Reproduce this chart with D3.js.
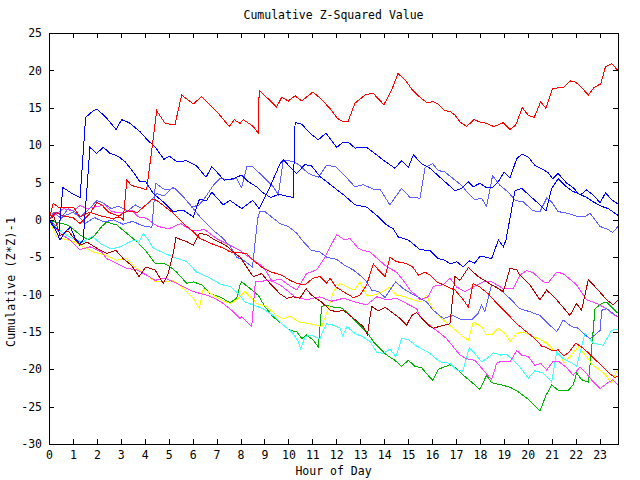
<!DOCTYPE html>
<html><head><meta charset="utf-8">
<script src="https://cdn.jsdelivr.net/npm/d3@7"></script>
<style>
html,body{margin:0;padding:0;background:#fff;}
svg{display:block;}
</style></head><body>
<svg id="chart" width="640" height="480"></svg>
<script>
// ---------- DATA (hour of day, cumulative (Z*Z)-1) ----------
const hourTicks = d3.range(0, 24);
const valueTicks = d3.range(-30, 26, 5);
const titleText = "Cumulative Z-Squared Value";
const xLabelText = "Hour of Day";
const yLabelText = "Cumulative (Z*Z)-1";

const redTop = [[0,0],[0.17,2.2],[0.39,1.7],[1.02,1.7],[1.29,0.4],[1.7,1.0],[2.2,0.5],[2.6,0.2],[3.0,0.3],[3.1,0.0],[3.25,5.3],[3.45,4.6],[3.66,4.4],[3.8,4.3],[4.08,4.0],[4.5,14.6],[4.85,12.9],[5.26,12.7],[5.54,16.7],[6.03,15.5],[6.38,16.5],[7.14,14.0],[7.53,12.5],[7.74,13.4],[7.98,12.9],[8.12,13.4],[8.53,12.5],[8.74,11.6],[8.78,17.3],[9.12,16.3],[9.51,15.1],[9.72,16.4],[10.0,15.9],[10.28,16.6],[10.56,15.9],[11.02,17.1],[11.32,16.3],[11.74,14.9],[12.04,13.6],[12.29,13.1],[12.5,13.2],[12.78,15.6],[13.24,16.8],[13.55,16.9],[13.99,15.4],[14.32,17.4],[14.58,19.6],[14.9,18.6],[15.2,17.3],[15.5,16.4],[15.78,15.7],[16.05,15.8],[16.26,15.5],[16.54,14.6],[16.75,14.5],[16.96,14.0],[17.17,13.1],[17.45,12.5],[17.75,13.4],[18.0,13.1],[18.28,12.9],[18.56,12.5],[18.77,12.7],[18.98,13.0],[19.26,12.1],[19.5,12.7],[19.77,15.0],[20.02,14.0],[20.27,13.7],[20.54,15.8],[20.76,14.9],[21.04,17.6],[21.48,17.7],[21.79,18.6],[22.01,18.4],[22.25,17.7],[22.53,16.7],[22.77,17.7],[23.05,18.2],[23.25,20.5],[23.5,20.9],[23.77,20.0]];

const redLow = [[0,0],[0.3,1.0],[0.6,0.5],[1.0,0.3],[1.3,-0.5],[1.7,0.8],[2.0,2.3],[2.2,2.0],[2.5,1.0],[2.9,0.5],[3.3,1.2],[3.7,1.0],[4.05,2.0],[4.3,2.8],[4.5,2.6],[5.19,0.9],[5.61,-0.5],[6.03,-1.6],[6.31,-2.5],[6.8,-3.2],[7.3,-3.8],[7.56,-4.3],[8.26,-4.5],[8.6,-5.6],[8.95,-6.5],[9.3,-7.0],[9.72,-7.4],[10.07,-8.1],[10.35,-8.5],[10.69,-8.7],[11.04,-7.8],[11.32,-7.6],[11.6,-8.5],[11.74,-7.8],[11.99,-9.0],[12.29,-9.6],[12.71,-10.4],[12.99,-10.1],[13.27,-8.7],[13.55,-5.9],[13.76,-6.7],[14.04,-7.6],[14.24,-5.0],[14.52,-5.6],[14.87,-5.8],[15.19,-6.3],[15.43,-7.4],[15.71,-7.0],[15.92,-7.4],[16.19,-8.3],[16.47,-8.7],[16.96,-9.4],[17.31,-10.7],[17.52,-11.7],[17.72,-8.5],[18.0,-9.0],[18.35,-9.9],[18.77,-11.4],[19.12,-12.5],[19.54,-13.9],[19.95,-15.0],[20.3,-15.9],[20.58,-16.9],[20.79,-17.1],[21.0,-17.5],[21.27,-17.4],[21.51,-18.2],[21.73,-17.7],[22.01,-16.5],[22.32,-17.2],[22.6,-18.0],[22.88,-18.9],[23.15,-19.7],[23.43,-20.6],[23.64,-21.1],[23.77,-20.9]];

const darkRed = [[0,0],[0.2,0.5],[0.46,-2.1],[0.8,-1.5],[1.29,-3.4],[1.6,-3.0],[2.0,-3.8],[2.41,-4.5],[2.8,-4.1],[3.1,-5.2],[3.45,-6.1],[3.76,-7.6],[4.05,-6.3],[4.43,-6.7],[4.77,-8.5],[4.98,-7.2],[5.19,-4.5],[5.3,-2.4],[5.75,-2.9],[6.03,-3.4],[6.28,-1.8],[6.59,-2.0],[6.93,-2.7],[7.21,-3.1],[7.42,-3.5],[7.7,-4.3],[7.98,-5.0],[8.53,-7.6],[8.88,-7.2],[9.23,-8.5],[9.65,-9.9],[9.93,-10.5],[10.2,-10.3],[10.48,-10.5],[10.74,-9.2],[10.97,-10.1],[11.39,-11.0],[11.74,-12.1],[12.02,-12.3],[12.29,-12.1],[12.57,-12.8],[12.92,-13.7],[13.13,-14.3],[13.3,-15.4],[13.48,-11.6],[13.76,-12.2],[14.04,-11.7],[14.38,-12.5],[14.66,-13.2],[14.94,-14.1],[15.15,-12.8],[15.36,-12.4],[15.64,-13.4],[15.92,-14.3],[16.05,-14.5],[16.75,-13.9],[16.96,-7.6],[17.17,-8.1],[17.52,-6.4],[17.93,-7.6],[18.49,-8.7],[18.98,-9.6],[19.26,-6.5],[19.54,-6.7],[19.67,-7.4],[20.09,-8.7],[20.51,-10.7],[20.79,-9.4],[21.21,-10.7],[21.76,-12.8],[22.04,-11.2],[22.25,-12.1],[22.53,-8.0],[22.88,-9.2],[23.3,-10.7],[23.57,-11.4],[23.77,-10.7]];

const blueA = [[0,0],[0.25,-1.0],[0.42,-1.5],[0.5,1.5],[0.58,4.3],[0.74,4.0],[1.02,3.4],[1.3,3.0],[1.53,13.7],[1.85,14.6],[2.02,14.8],[2.41,13.6],[2.8,12.1],[3.04,13.4],[3.35,13.0],[3.8,11.8],[4.08,10.8],[4.47,9.6],[4.8,8.1],[5.03,8.5],[5.33,7.8],[5.75,7.9],[6.17,7.2],[6.56,5.7],[6.8,7.1],[7.01,6.4],[7.31,5.3],[7.7,5.5],[8.05,6.0],[8.33,5.1],[8.68,4.4],[8.95,3.6],[9.26,3.0],[9.6,3.4],[10.2,3.0],[10.28,13.0],[10.56,12.8],[10.9,11.6],[11.25,10.7],[11.57,11.6],[12.02,9.7],[12.29,10.4],[12.5,10.4],[12.78,9.6],[13.27,9.7],[13.69,8.7],[13.96,8.0],[14.45,6.9],[14.73,7.9],[15.01,7.0],[15.22,8.7],[15.57,7.5],[15.92,6.9],[16.33,5.7],[16.96,3.9],[17.24,4.2],[17.52,5.1],[17.72,4.4],[18.0,4.9],[18.28,4.3],[18.56,4.4],[18.77,5.1],[19.01,6.4],[19.26,5.6],[19.54,8.2],[19.77,8.8],[20.02,8.4],[20.3,7.3],[20.65,6.7],[20.86,6.3],[21.04,5.5],[21.27,6.2],[21.63,4.9],[21.9,4.3],[22.18,3.3],[22.46,4.0],[22.74,3.3],[23.02,2.3],[23.25,3.6],[23.5,2.7],[23.77,2.1]];

const blueB = [[0,0],[0.3,-1.5],[0.46,-2.7],[0.7,-1.5],[0.9,-1.0],[1.1,-2.5],[1.29,-3.2],[1.43,-2.7],[1.71,9.7],[1.99,8.9],[2.27,9.7],[2.55,8.9],[2.89,8.5],[3.17,7.8],[3.45,6.7],[3.8,5.1],[4.05,5.1],[4.36,3.5],[4.77,2.4],[5.19,1.1],[5.61,1.3],[6.03,0.4],[6.28,2.7],[6.59,2.6],[6.8,3.7],[7.28,2.0],[7.56,2.6],[8.05,1.5],[8.51,2.6],[8.78,1.5],[9.23,4.4],[9.65,7.5],[9.79,8.0],[10.35,6.2],[10.69,7.4],[10.97,7.2],[11.32,5.8],[11.88,4.4],[12.36,3.2],[12.78,2.0],[13.27,1.7],[13.69,0.6],[14.11,-0.7],[14.38,-1.2],[14.59,-2.3],[15.01,-2.7],[15.5,-4.0],[15.92,-4.1],[16.26,-5.2],[16.54,-5.4],[16.75,-5.9],[17.03,-5.6],[17.31,-6.3],[17.56,-5.5],[17.79,-5.8],[18.0,-4.9],[18.28,-5.0],[18.49,-5.2],[18.77,-2.7],[18.98,-3.6],[19.09,-2.7],[19.47,3.9],[19.75,4.2],[20.09,3.2],[20.44,2.2],[20.76,1.2],[21.0,4.2],[21.27,5.5],[21.55,4.6],[21.83,3.9],[22.11,3.5],[22.46,3.0],[22.74,2.4],[23.09,1.8],[23.36,1.5],[23.77,0.6]];

const lightBlueA = [[0,0],[0.3,-0.8],[0.6,0.5],[1.0,1.0],[1.3,0.4],[1.7,1.5],[2.0,2.6],[2.3,2.2],[2.6,1.5],[2.9,1.8],[3.3,1.2],[3.6,2.0],[3.9,1.5],[4.2,2.4],[4.5,3.5],[4.8,3.2],[5.19,4.4],[5.75,2.6],[6.31,0.4],[6.93,-1.6],[7.21,-2.3],[7.56,-3.5],[7.84,-5.0],[8.12,-5.4],[8.5,-6.3],[8.72,0.2],[8.81,1.1],[9.02,1.1],[9.37,0.2],[9.65,-0.5],[10.0,-0.9],[10.35,-1.8],[10.56,-2.7],[10.97,-4.1],[11.32,-4.3],[11.6,-5.0],[12.02,-5.3],[12.36,-6.1],[12.71,-6.7],[13.06,-7.6],[13.27,-8.3],[13.48,-9.4],[13.76,-9.6],[14.04,-10.4],[14.24,-9.4],[14.48,-8.3],[14.8,-9.2],[15.15,-9.9],[15.5,-10.5],[15.78,-11.0],[16.05,-12.1],[16.47,-13.2],[16.89,-12.8],[17.24,-13.4],[17.66,-13.4],[17.93,-12.5],[18.07,-11.4],[18.21,-12.3],[18.49,-8.7],[18.7,-9.0],[19.05,-9.9],[19.4,-11.0],[19.67,-11.9],[20.09,-12.3],[20.51,-12.8],[20.86,-13.9],[21.21,-15.0],[21.48,-13.4],[21.83,-14.3],[22.11,-14.5],[22.32,-15.2],[22.6,-15.9],[22.81,-15.4],[23.02,-14.8],[23.09,-12.1],[23.3,-11.9],[23.77,-13.0]];

const lightBlueB = [[0,0],[0.2,1.0],[0.5,0.2],[0.8,1.5],[1.1,1.0],[1.5,-0.5],[1.9,0.3],[2.3,-0.3],[2.7,0.0],[3.1,-0.6],[3.5,-0.2],[3.9,-0.8],[4.3,-1.0],[4.45,4.9],[4.85,4.0],[5.26,4.2],[5.61,3.1],[5.96,1.7],[6.28,2.0],[6.59,3.3],[6.86,4.6],[7.14,5.5],[7.56,5.4],[7.84,5.5],[8.05,4.3],[8.26,7.1],[8.47,7.2],[8.81,6.2],[9.37,4.4],[9.58,3.4],[9.79,8.0],[10.2,7.8],[10.48,7.3],[10.83,6.2],[11.25,5.7],[11.6,7.3],[11.99,7.1],[12.36,5.9],[12.78,4.4],[13.13,4.7],[13.55,4.1],[13.83,4.1],[14.24,2.0],[14.73,4.2],[15.08,3.0],[15.5,2.9],[15.71,7.0],[16.03,7.5],[16.26,6.6],[16.54,6.4],[16.89,5.5],[17.24,4.6],[17.52,3.5],[17.79,2.7],[18.07,2.9],[18.28,1.8],[18.53,5.9],[18.84,4.6],[19.19,3.7],[19.47,2.6],[19.81,2.4],[20.23,1.2],[20.51,1.1],[20.79,2.9],[21.0,2.4],[21.27,1.1],[21.63,0.9],[22.04,0.5],[22.39,0.4],[22.6,0.9],[23.02,-0.9],[23.3,-1.2],[23.55,-1.7],[23.77,-0.9]];

const magentaA = [[0,0],[0.3,0.8],[0.6,1.5],[1.0,1.2],[1.3,1.9],[1.6,1.5],[1.92,1.7],[2.34,2.0],[2.62,1.1],[3.04,0.9],[3.45,1.3],[3.73,0.4],[4.08,0.2],[4.36,-0.5],[4.57,-0.9],[5.0,-1.2],[5.5,-0.5],[6.0,-1.5],[6.5,-1.3],[7.0,-2.5],[7.56,-3.4],[7.98,-4.1],[8.53,-5.4],[8.95,-6.3],[9.3,-8.1],[9.7,-8.0],[10.0,-8.7],[10.35,-9.4],[10.76,-7.2],[11.18,-6.7],[11.53,-5.0],[11.74,-3.6],[12.02,-2.0],[12.36,-2.7],[12.57,-2.5],[12.92,-3.8],[13.13,-4.1],[13.41,-4.3],[13.76,-5.3],[14.11,-6.3],[14.52,-7.0],[14.8,-8.1],[15.08,-9.4],[15.43,-10.4],[15.5,-10.7],[15.84,-10.3],[16.05,-8.9],[16.47,-8.7],[16.75,-7.8],[17.03,-9.0],[17.38,-9.6],[17.72,-9.0],[18.14,-8.3],[18.49,-8.3],[18.98,-9.2],[19.4,-9.2],[19.67,-7.4],[19.95,-6.8],[20.23,-7.1],[20.65,-8.3],[20.86,-8.4],[21.21,-7.0],[21.48,-7.2],[22.04,-8.7],[22.46,-10.7],[22.88,-11.2],[23.3,-11.9],[23.5,-12.5],[23.77,-13.0]];

const magentaB = [[0,0],[0.2,-0.8],[0.46,-1.8],[0.88,-2.7],[1.29,-4.0],[1.71,-3.6],[2.2,-4.3],[2.41,-5.2],[2.83,-5.8],[3.25,-6.5],[3.66,-6.7],[4.08,-7.4],[4.43,-8.1],[4.85,-7.8],[5.19,-8.3],[5.47,-8.7],[6.03,-9.6],[6.59,-10.1],[6.93,-10.5],[7.28,-11.2],[7.7,-12.3],[7.98,-13.2],[8.05,-13.0],[8.47,-14.3],[8.62,-8.3],[9.23,-8.1],[9.65,-8.7],[10.28,-10.3],[10.76,-10.7],[11.3,-10.3],[11.8,-10.9],[12.3,-10.5],[12.8,-11.0],[13.27,-11.4],[13.69,-10.3],[14.11,-10.7],[14.52,-10.5],[14.94,-11.2],[15.36,-11.9],[15.5,-13.0],[16.05,-14.5],[16.19,-14.8],[16.61,-15.9],[16.89,-17.0],[17.17,-18.1],[17.45,-18.6],[17.79,-18.8],[18.14,-20.1],[18.49,-21.4],[18.7,-19.2],[18.91,-18.9],[19.26,-19.0],[19.54,-17.5],[19.75,-18.1],[20.02,-18.3],[20.3,-19.5],[20.54,-19.2],[20.79,-20.1],[21.07,-18.9],[21.27,-18.9],[21.63,-19.8],[21.9,-20.8],[22.18,-19.7],[22.46,-20.6],[22.74,-21.7],[23.02,-22.6],[23.3,-21.9],[23.55,-21.4],[23.77,-22.1]];

const cyanA = [[0,0],[0.3,-1.0],[0.6,-1.8],[1.0,-2.5],[1.4,-3.0],[1.8,-2.2],[2.2,-3.3],[2.6,-3.9],[3.0,-3.6],[3.4,-2.9],[3.66,-2.7],[3.73,-3.2],[3.94,-1.8],[4.15,-2.7],[4.36,-3.8],[5.19,-5.0],[5.75,-5.6],[6.17,-7.0],[6.73,-7.8],[7.21,-8.7],[7.56,-8.9],[7.91,-9.9],[8.19,-11.0],[8.53,-11.4],[8.95,-11.9],[9.37,-12.8],[9.72,-13.9],[10.2,-15.2],[10.41,-16.3],[10.51,-17.3],[10.69,-15.7],[10.9,-15.4],[11.32,-15.9],[11.43,-15.0],[11.6,-13.9],[11.88,-14.1],[12.16,-14.5],[12.27,-15.6],[12.44,-14.3],[12.78,-15.2],[13.13,-15.7],[13.41,-16.3],[13.69,-17.7],[13.96,-17.9],[14.24,-17.3],[14.49,-18.3],[14.73,-15.9],[15.01,-16.0],[15.36,-16.9],[15.84,-17.7],[16.33,-19.0],[16.75,-19.2],[17.03,-20.1],[17.28,-20.3],[17.56,-17.1],[17.79,-17.9],[18.07,-19.0],[18.28,-18.6],[18.56,-17.8],[18.84,-18.1],[19.12,-18.0],[19.4,-18.8],[19.67,-19.7],[20.02,-21.2],[20.3,-20.2],[20.65,-20.5],[21.0,-21.7],[21.21,-17.7],[21.48,-18.6],[21.76,-19.0],[22.04,-19.6],[22.25,-17.0],[22.39,-15.2],[22.74,-16.5],[23.15,-16.8],[23.5,-14.8],[23.77,-14.6]];

const yellowA = [[0,0],[0.32,-2.3],[1.02,-2.9],[1.43,-3.6],[1.85,-4.3],[2.34,-4.7],[2.83,-5.4],[3.25,-5.2],[3.66,-6.5],[4.08,-7.4],[4.43,-8.3],[4.85,-8.3],[5.19,-8.1],[5.61,-9.2],[6.03,-10.5],[6.28,-11.9],[6.45,-9.2],[6.86,-10.1],[7.21,-10.7],[7.56,-11.2],[7.84,-10.7],[8.19,-9.6],[8.68,-11.2],[9.09,-11.6],[9.51,-12.8],[9.79,-13.2],[10.07,-12.9],[10.48,-13.7],[10.9,-13.9],[11.39,-14.3],[11.67,-11.9],[11.88,-9.6],[12.16,-8.5],[12.44,-9.0],[12.78,-9.4],[12.99,-8.3],[13.27,-10.1],[13.55,-10.1],[13.96,-9.6],[14.24,-9.0],[14.52,-10.1],[14.87,-10.3],[15.22,-10.7],[15.5,-11.0],[15.78,-10.1],[16.05,-12.1],[16.47,-13.4],[16.89,-14.5],[17.31,-15.7],[17.52,-16.1],[17.72,-13.7],[18.07,-14.3],[18.28,-15.4],[18.49,-15.4],[18.77,-14.5],[19.05,-15.2],[19.26,-16.3],[19.54,-15.2],[19.81,-15.0],[20.2,-15.6],[20.5,-16.0],[20.79,-16.5],[21.07,-17.4],[21.35,-18.1],[21.51,-19.2],[21.76,-18.3],[22.11,-17.0],[22.46,-18.3],[22.74,-19.5],[23.02,-20.1],[23.3,-20.9],[23.5,-21.9],[23.71,-20.3],[23.77,-20.0]];

const greenA = [[0,0],[0.25,-0.3],[0.6,-0.5],[0.88,-0.9],[1.29,-2.0],[1.64,-2.7],[1.85,-2.3],[2.2,-0.9],[2.41,-0.3],[2.83,-0.7],[3.25,-1.8],[3.66,-2.9],[4.08,-4.3],[4.43,-5.8],[4.77,-5.8],[4.98,-6.1],[5.33,-7.0],[5.75,-8.5],[6.03,-8.3],[6.38,-8.7],[6.73,-9.9],[7.14,-10.3],[7.56,-11.1],[7.84,-10.5],[7.98,-8.7],[8.05,-8.3],[8.4,-9.2],[8.74,-10.1],[9.02,-11.6],[9.37,-13.0],[9.72,-13.9],[10.07,-14.8],[10.35,-15.0],[10.56,-15.9],[10.76,-15.4],[11.04,-16.1],[11.25,-17.0],[11.39,-11.6],[11.6,-11.4],[11.88,-11.7],[12.16,-11.7],[12.44,-12.3],[12.85,-13.7],[13.27,-15.0],[13.6,-16.5],[14.11,-18.1],[14.45,-18.8],[14.73,-19.6],[15.01,-18.8],[15.29,-19.6],[15.57,-19.8],[15.78,-20.6],[16.03,-21.5],[16.26,-20.0],[16.75,-19.4],[17.03,-19.9],[17.31,-20.8],[17.72,-21.9],[18.0,-22.7],[18.28,-20.8],[18.49,-21.8],[18.91,-22.1],[19.26,-22.4],[19.6,-23.0],[20.09,-24.2],[20.51,-25.6],[20.76,-23.5],[21.0,-22.1],[21.27,-22.8],[21.69,-22.8],[21.9,-22.1],[22.04,-20.5],[22.25,-21.4],[22.53,-21.7],[22.67,-17.2],[22.81,-11.9],[23.09,-11.2],[23.3,-11.0],[23.57,-11.9],[23.77,-12.5]];

// ---------- drawing ----------
const series = [
  {data: greenA, color: "#00b000"},
  {data: yellowA, color: "#ffff00"},
  {data: cyanA, color: "#40ffff"},
  {data: magentaB, color: "#ff40ff"},
  {data: magentaA, color: "#ff40ff"},
  {data: lightBlueA, color: "#6060ff"},
  {data: lightBlueB, color: "#6060ff"},
  {data: darkRed, color: "#b00000"},
  {data: redLow, color: "#ff0000"},
  {data: blueB, color: "#0000ff"},
  {data: blueA, color: "#0000ff"},
  {data: redTop, color: "#ff0000"}
];

const W = 640, H = 480, L = 49, R = 618, T = 33, B = 444;
const FONT = "'DejaVu Sans Mono', 'Liberation Mono', monospace";
const FS = 11.5;

const x = d3.scaleLinear().domain([0, 23.77]).range([L, R]);
const y = d3.scaleLinear().domain([-30, 25]).range([B, T]);

const svg = d3.select("#chart");
svg.append("rect").attr("width", W).attr("height", H).attr("fill", "#fff");

svg.append("clipPath").attr("id", "clip")
  .append("rect").attr("x", L).attr("y", T).attr("width", R - L).attr("height", B - T);

const line = d3.line().x(d => x(d[0])).y(d => y(d[1]));
const plot = svg.append("g").attr("clip-path", "url(#clip)");
series.forEach(s => {
  plot.append("path").datum(s.data)
    .attr("d", line)
    .attr("fill", "none")
    .attr("stroke", s.color)
    .attr("stroke-width", 1)
    .attr("shape-rendering", "crispEdges");
});

function styleAxis(g) {
  g.attr("font-family", FONT).attr("font-size", FS);
  g.selectAll("path,line").attr("stroke", "#000").attr("shape-rendering", "crispEdges");
  g.selectAll("text").attr("fill", "#000");
}
const fmt = d => String(d);

svg.append("g").attr("transform", `translate(0,${B})`)
  .call(d3.axisBottom(x).tickValues(hourTicks).tickSizeInner(-5).tickSizeOuter(0).tickPadding(7).tickFormat(fmt))
  .call(styleAxis);
svg.append("g").attr("transform", `translate(0,${T})`)
  .call(d3.axisTop(x).tickValues(hourTicks).tickSizeInner(-5).tickSizeOuter(0).tickFormat(""))
  .call(styleAxis);
svg.append("g").attr("transform", `translate(${L},0)`)
  .call(d3.axisLeft(y).tickValues(valueTicks).tickSizeInner(-5).tickSizeOuter(0).tickPadding(7).tickFormat(fmt))
  .call(styleAxis);
svg.append("g").attr("transform", `translate(${R},0)`)
  .call(d3.axisRight(y).tickValues(valueTicks).tickSizeInner(-5).tickSizeOuter(0).tickFormat(""))
  .call(styleAxis);

svg.append("text").attr("x", (L + R) / 2).attr("y", 19)
  .attr("text-anchor", "middle").attr("font-family", FONT).attr("font-size", FS)
  .text(titleText);
svg.append("text").attr("x", (L + R) / 2).attr("y", 475)
  .attr("text-anchor", "middle").attr("font-family", FONT).attr("font-size", FS)
  .text(xLabelText);
svg.append("text")
  .attr("transform", `translate(15,282) rotate(-90)`)
  .attr("text-anchor", "middle").attr("font-family", FONT).attr("font-size", FS)
  .attr("textLength", 130).attr("lengthAdjust", "spacing")
  .text(yLabelText);
</script>
</body></html>
